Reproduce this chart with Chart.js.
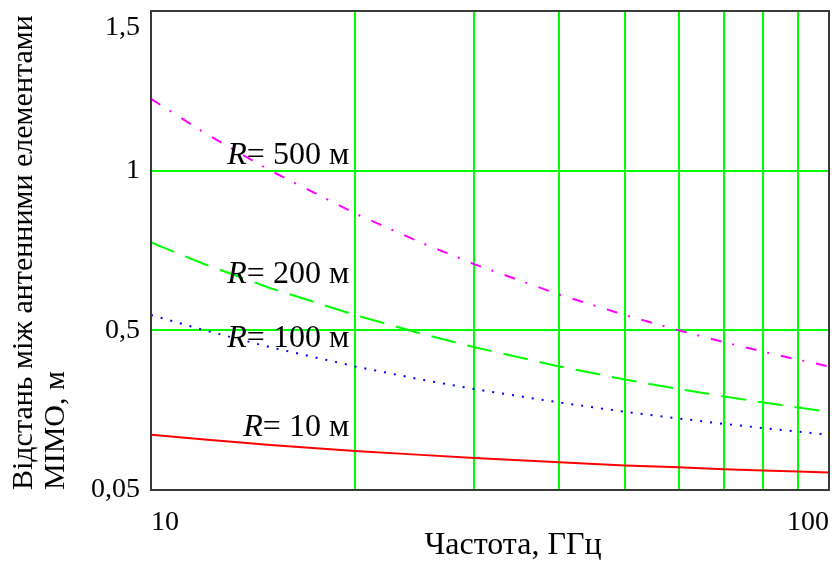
<!DOCTYPE html>
<html><head><meta charset="utf-8">
<script src="https://cdn.jsdelivr.net/npm/chart.js@4/dist/chart.umd.min.js"></script>
<style>html,body{margin:0;padding:0;background:#fff}#wrap{width:835px;height:563px}</style>
</head><body><div id="wrap"><canvas id="c" width="835" height="563"></canvas></div>
<script>
// Frequency (GHz) and antenna element spacing (m)
const frequencies = [10, 12, 15, 20, 25, 30, 40, 50, 60, 70, 80, 90, 100];
const r500 = [1.225, 1.118, 1.000, 0.866, 0.775, 0.707, 0.612, 0.548, 0.500, 0.463, 0.433, 0.408, 0.387];
const r200 = [0.775, 0.707, 0.632, 0.548, 0.490, 0.447, 0.387, 0.346, 0.316, 0.293, 0.274, 0.258, 0.245];
const r100 = [0.548, 0.500, 0.447, 0.387, 0.346, 0.316, 0.274, 0.245, 0.224, 0.207, 0.194, 0.183, 0.173];
const r10  = [0.173, 0.158, 0.141, 0.122, 0.110, 0.100, 0.087, 0.077, 0.071, 0.065, 0.061, 0.058, 0.055];
const seriesNames = ['500 м', '200 м', '100 м', '10 м'];
const xGridValues = [10, 20, 30, 40, 50, 60, 70, 80, 90, 100];
const xTickLabels = {10: '10', 100: '100'};
const yTickValues = [0, 0.5, 1, 1.5];
const yTickLabels = ['0,05', '0,5', '1', '1,5'];
const xTitle = 'Частота, ГГц';
const yTitle = ['Відстань між антенними елементами', 'MIMO, м'];
// label anchors (frequency, value) for curve annotations
const labelAnchorF = [19.6, 19.6, 19.6, 19.6];
const labelAnchorV = [1.046, 0.676, 0.473, 0.194];

const FONT = 'Liberation Serif';
const pts = arr => frequencies.map((f, i) => ({x: f, y: arr[i]}));

const framePlugin = {
  id: 'frame',
  afterDatasetsDraw(chart) {
    const {ctx, chartArea: a} = chart;
    ctx.save();
    ctx.strokeStyle = '#3a3a3a';
    ctx.lineWidth = 2;
    ctx.strokeRect(a.left, a.top, a.right - a.left, a.bottom - a.top);
    ctx.restore();
  }
};

const textPlugin = {
  id: 'texts',
  afterDraw(chart) {
    const {ctx, chartArea: a, scales} = chart;
    ctx.save();
    ctx.fillStyle = '#000';
    ctx.textBaseline = 'middle';
    seriesNames.forEach((name, i) => {
      const x = scales.x.getPixelForValue(labelAnchorF[i]);
      const y = scales.y.getPixelForValue(labelAnchorV[i]);
      ctx.font = '32px "' + FONT + '"';
      const rest = '= ' + name;
      const w = ctx.measureText(rest).width;
      ctx.textAlign = 'right';
      ctx.fillText(rest, x, y);
      ctx.font = 'italic 32px "' + FONT + '"';
      ctx.fillText('R', x - w, y);
    });
    ctx.font = '32px "' + FONT + '"';
    ctx.textAlign = 'center';
    ctx.fillText(xTitle, (a.left + a.right) / 2 + 23, 546);
    ctx.restore();
  }
};

new Chart(document.getElementById('c'), {
  type: 'line',
  data: {
    datasets: [
      {label: 'R= ' + seriesNames[0], data: pts(r500), borderColor: '#ff00ff', borderWidth: 2, borderDash: [11, 11, 2, 12], pointRadius: 0, fill: false},
      {label: 'R= ' + seriesNames[1], data: pts(r200), borderColor: '#00ff00', borderWidth: 2, borderDash: [25, 12], pointRadius: 0, fill: false},
      {label: 'R= ' + seriesNames[2], data: pts(r100), borderColor: '#0000ff', borderWidth: 2, borderDash: [2, 8], pointRadius: 0, fill: false},
      {label: 'R= ' + seriesNames[3], data: pts(r10), borderColor: '#ff0000', borderWidth: 2, pointRadius: 0, fill: false}
    ]
  },
  options: {
    responsive: false,
    animation: false,
    layout: {padding: {left: 0, right: 6, top: 11, bottom: 0}},
    plugins: {legend: {display: false}, tooltip: {enabled: false}},
    scales: {
      x: {
        type: 'logarithmic', min: 10, max: 100,
        afterBuildTicks: s => { s.ticks = xGridValues.map(v => ({value: v})); },
        afterFit: s => { s.height = 73; s.paddingLeft = 0; s.paddingRight = 0; },
        grid: {
          color: c => (c.tick && (c.tick.value === 10 || c.tick.value === 100)) ? 'rgba(0,0,0,0)' : '#00ff00',
          lineWidth: 2, drawTicks: false
        },
        border: {display: false},
        ticks: {
          callback: v => xTickLabels[v] || '',
          align: 'inner', autoSkip: false, maxRotation: 0, minRotation: 0,
          padding: 16, color: '#000', font: {family: FONT, size: 28}
        }
      },
      y: {
        type: 'linear', min: 0, max: 1.5,
        afterBuildTicks: s => { s.ticks = yTickValues.map(v => ({value: v})); },
        afterFit: s => { s.width = 151; s.paddingTop = 0; s.paddingBottom = 0; },
        grid: {
          color: c => (c.tick && (c.tick.value === 0 || c.tick.value === 1.5)) ? 'rgba(0,0,0,0)' : '#00ff00',
          lineWidth: 2, drawTicks: false
        },
        border: {display: false},
        ticks: {
          callback: v => {
            const i = yTickValues.indexOf(v);
            const t = i >= 0 ? yTickLabels[i] : '';
            return v === 1.5 ? ['', t] : t;
          },
          padding: 11, color: '#000', font: {family: FONT, size: 28}
        },
        title: {
          display: true, text: yTitle, align: 'start', color: '#000',
          padding: {top: 8, bottom: 0},
          font: {family: FONT, size: 30, lineHeight: 1.07}
        }
      }
    }
  },
  plugins: [framePlugin, textPlugin]
});
</script>
</body></html>
